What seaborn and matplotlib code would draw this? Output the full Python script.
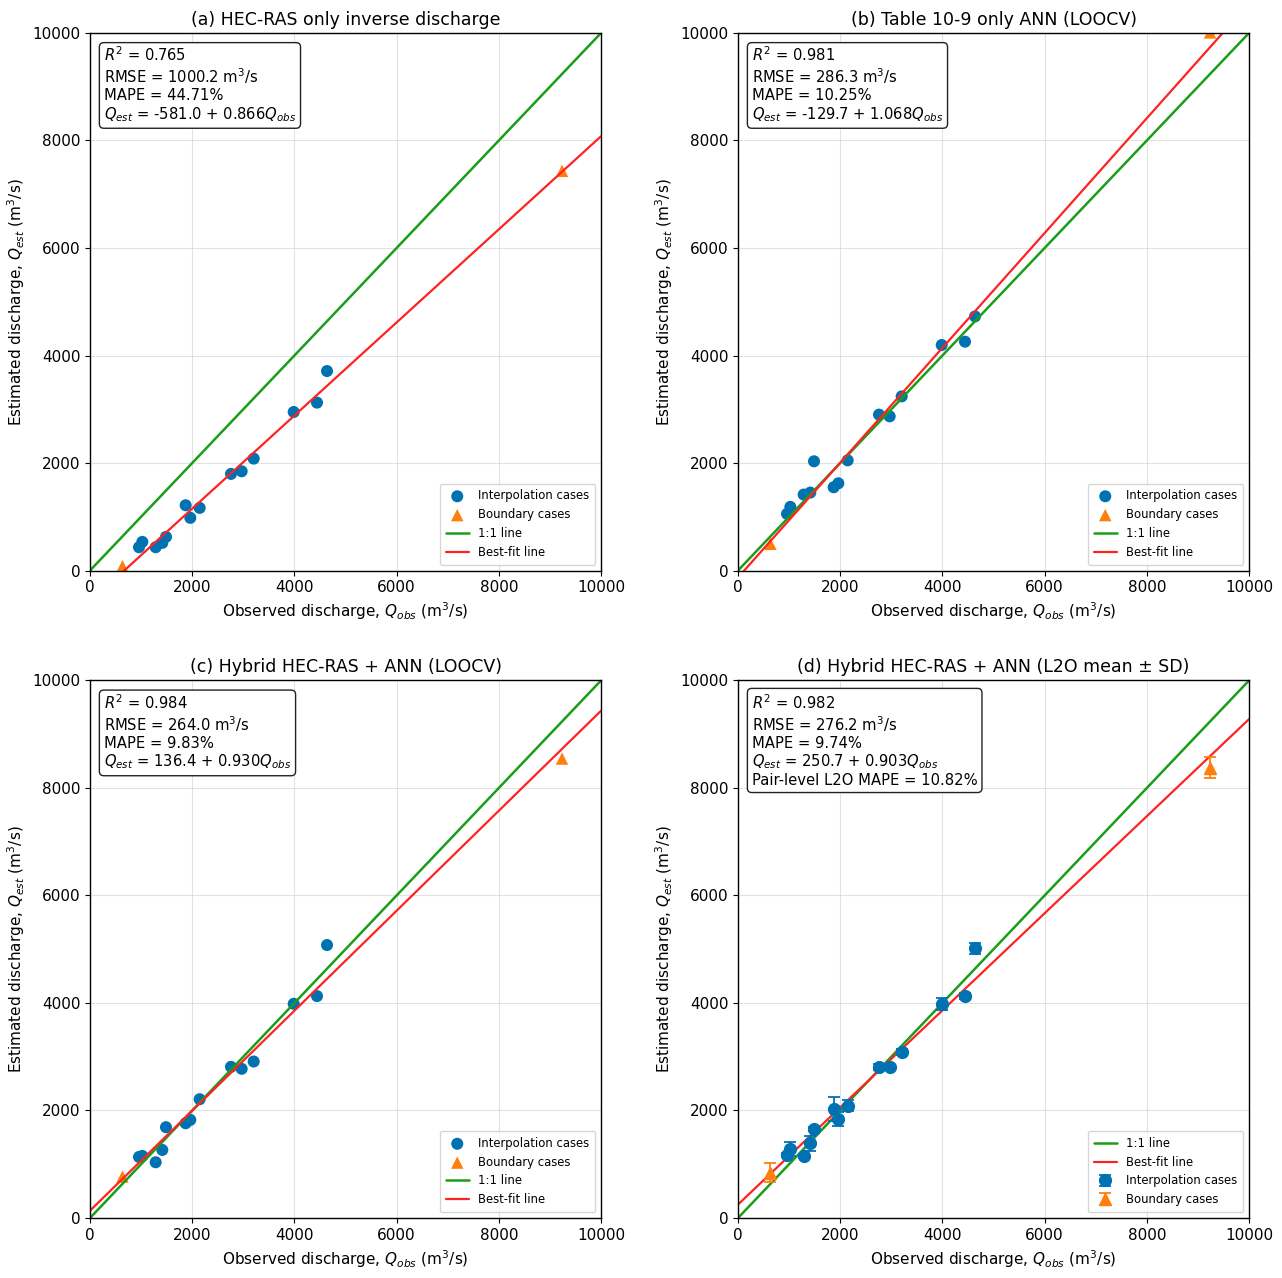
import numpy as np
import pandas as pd
import matplotlib
matplotlib.use("Agg")
import matplotlib.pyplot as plt
import seaborn as sns

# ===== DATA =====
q_obs_interp = [959, 1024, 1285, 1415, 1487, 1872, 1963, 2146, 2759, 2968, 3203, 3986, 4442, 4638]
q_obs_boundary = [635, 9237]

est_a_interp = [433, 533, 433, 515, 626, 1214, 980, 1165, 1797, 1846, 2082, 2949, 3123, 3711]
est_a_boundary = [80, 7435]

est_b_interp = [1054, 1184, 1413, 1450, 2032, 1549, 1623, 2050, 2900, 2868, 3240, 4195, 4257, 4727]
est_b_boundary = [496, 10010]

est_c_interp = [1136, 1155, 1037, 1266, 1689, 1763, 1825, 2210, 2812, 2775, 2911, 3985, 4128, 5078]
est_c_boundary = [770, 8547]

est_d_interp = [1167, 1279, 1154, 1391, 1657, 2030, 1849, 2091, 2812, 2812, 3091, 3979, 4134, 5015]
sd_d_interp = [40, 130, 40, 137, 40, 230, 130, 100, 50, 40, 50, 110, 60, 100]
est_d_boundary = [844, 8380]
sd_d_boundary = [170, 200]

titles = [
    "(a) HEC-RAS only inverse discharge",
    "(b) Table 10-9 only ANN (LOOCV)",
    "(c) Hybrid HEC-RAS + ANN (LOOCV)",
    "(d) Hybrid HEC-RAS + ANN (L2O mean \u00b1 SD)",
]
r2_vals = [0.765, 0.981, 0.984, 0.982]
rmse_vals = [1000.2, 286.3, 264.0, 276.2]
mape_vals = [44.71, 10.25, 9.83, 9.74]
fit_intercepts = [-581.0, -129.7, 136.4, 250.7]
fit_slopes = [0.866, 1.068, 0.930, 0.903]
pair_l2o_mape = 10.82

BLUE = "#0072B2"
ORANGE = "#FF7F0E"
GREEN = "#1a9e1a"
RED = "#FF2222"

sns.set_style("ticks")
plt.rcParams["font.family"] = ["DejaVu Sans"]
plt.rcParams.update({
    "text.color": "black",
    "axes.labelcolor": "black",
    "xtick.color": "black",
    "ytick.color": "black",
    "axes.edgecolor": "black",
})


def stats_text(i):
    lines = [
        f"$R^2$ = {r2_vals[i]:.3f}",
        f"RMSE = {rmse_vals[i]:.1f} m$^3$/s",
        f"MAPE = {mape_vals[i]:.2f}%",
        f"$Q_{{est}}$ = {fit_intercepts[i]:.1f} + {fit_slopes[i]:.3f}$Q_{{obs}}$",
    ]
    if i == 3:
        lines.append(f"Pair-level L2O MAPE = {pair_l2o_mape:.2f}%")
    return "\n".join(lines)


def draw_lines(ax, i):
    xx = np.array([0, 10000])
    ax.plot(xx, xx, color=GREEN, lw=1.8, label="1:1 line")
    ax.plot(xx, fit_intercepts[i] + fit_slopes[i] * xx, color=RED, lw=1.6, label="Best-fit line")


def style_axis(ax, i):
    ax.set_xlim(0, 10000)
    ax.set_ylim(0, 10000)
    ax.set_xticks(np.arange(0, 10001, 2000))
    ax.set_yticks(np.arange(0, 10001, 2000))
    ax.grid(True, color="#d0d0d0", alpha=0.6, lw=0.8)
    ax.set_axisbelow(True)
    ax.tick_params(labelsize=11)
    for sp in ax.spines.values():
        sp.set_color("black")
        sp.set_linewidth(1.0)
    ax.set_title(titles[i], fontsize=12.5)
    ax.set_xlabel("Observed discharge, $Q_{obs}$ (m$^3$/s)", fontsize=11)
    ax.set_ylabel("Estimated discharge, $Q_{est}$ (m$^3$/s)", fontsize=11)
    ax.text(0.027, 0.977, stats_text(i), transform=ax.transAxes, fontsize=10.6,
            va="top", ha="left", linespacing=1.15,
            bbox=dict(boxstyle="round,pad=0.3", facecolor="white", edgecolor="#222222", lw=1.0))


fig, axes = plt.subplots(2, 2, figsize=(12.82, 12.78), dpi=100)
fig.subplots_adjust(left=0.0702, right=0.9743, bottom=0.04695, top=0.9742, wspace=0.268, hspace=0.2045)

est_interp_all = [est_a_interp, est_b_interp, est_c_interp]
est_boundary_all = [est_a_boundary, est_b_boundary, est_c_boundary]

for i, ax in enumerate(axes.flat[:3]):
    df_i = pd.DataFrame({"obs": q_obs_interp, "est": est_interp_all[i]})
    df_b = pd.DataFrame({"obs": q_obs_boundary, "est": est_boundary_all[i]})
    sns.scatterplot(data=df_i, x="obs", y="est", ax=ax, color=BLUE, marker="o", s=75,
                    edgecolor="none", label="Interpolation cases")
    sns.scatterplot(data=df_b, x="obs", y="est", ax=ax, color=ORANGE, marker="^", s=80,
                    edgecolor="none", label="Boundary cases")
    draw_lines(ax, i)
    style_axis(ax, i)
    ax.legend(loc="lower right", fontsize=8.4, framealpha=0.8, borderpad=0.5)

# panel (d): L2O mean +- SD
ax = axes.flat[3]
draw_lines(ax, 3)
ax.errorbar(q_obs_interp, est_d_interp, yerr=sd_d_interp, fmt="o", color=BLUE, ms=8.5,
            capsize=4, elinewidth=1.3, capthick=1.3, label="Interpolation cases")
ax.errorbar(q_obs_boundary, est_d_boundary, yerr=sd_d_boundary, fmt="^", color=ORANGE, ms=9,
            capsize=4, elinewidth=1.3, capthick=1.3, label="Boundary cases")
style_axis(ax, 3)
ax.legend(loc="lower right", fontsize=8.4, framealpha=0.8, borderpad=0.5)

fig.savefig("out.png", dpi=100)
